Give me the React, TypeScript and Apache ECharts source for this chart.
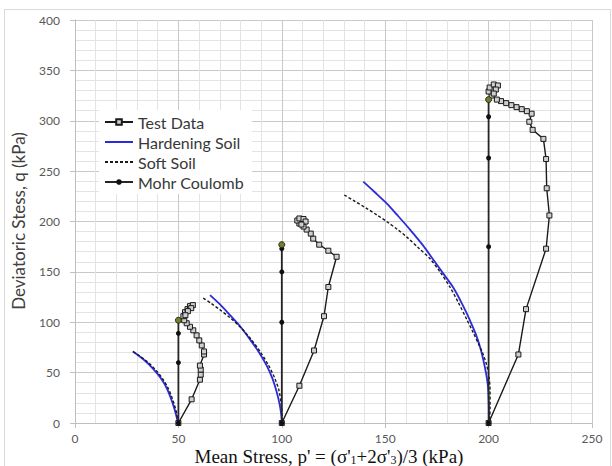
import React, { useEffect, useRef } from "react";
import * as echarts from "echarts";

// Axis ranges (kPa)
const P_MAX = 250;
const P_STEP = 50;
const Q_MAX = 400;
const Q_STEP = 50;

const LEGEND_NAMES = ["Test Data", "Hardening Soil", "Soft Soil", "Mohr Coulomb"];

// Measured stress paths [p', q] for the three confining levels
const testData50 = [
  [50, 0], [56.4, 23.5], [60.4, 43], [60.8, 48], [60.8, 53], [60.4, 57], [62.4, 68], [62.4, 71],
  [61.3, 77], [60.1, 82], [58.8, 87], [57.2, 92], [55.6, 95.5], [54, 99], [52.8, 102], [52.4, 106],
  [53.2, 110], [54.4, 113], [55.6, 116], [57, 117], [56.2, 114], [54.6, 111], [53.4, 107],
];
const testData100 = [
  [100, 0], [108.5, 37], [115.6, 72], [120.4, 106], [122.5, 135], [126.5, 165], [122.5, 171],
  [118.1, 177], [115.2, 183], [114, 188], [112, 192], [110.5, 195], [108.5, 198], [107.5, 201],
  [108.5, 203], [110.5, 202.5], [111.5, 200], [109.5, 197],
];
const testData200 = [
  [200, 0], [214.4, 68], [218.1, 113], [227.8, 173], [229.4, 206], [228.1, 233], [227.8, 262],
  [226.5, 282], [221.3, 291], [219.7, 299], [220.8, 307], [218.5, 309.5], [216, 311.5],
  [213.5, 313.5], [211, 315.5], [208.5, 317.5], [206, 319.5], [204, 321], [201.5, 325], [200, 329],
  [200.5, 333], [202.5, 336], [204.5, 335], [203.5, 331], [202.5, 327],
];

// Hardening Soil model predictions
const hardening50 = [
  [28, 71], [31, 66.5], [34, 61.5], [37, 55.5], [40, 48.5], [42.5, 41.5], [44.5, 34], [46.3, 25],
  [47.8, 16], [48.9, 8], [49.8, 0],
];
const hardening100 = [
  [65.3, 127], [70, 118], [75, 107], [80, 95.5], [84.6, 83], [89, 70], [92.7, 57], [95.5, 44],
  [97.5, 31], [99, 18], [99.8, 7], [100, 0],
];
const hardening200 = [
  [139.4, 239.5], [145, 229], [150.7, 218], [156, 206], [162, 192], [168, 177], [173.3, 162],
  [178, 148.5], [182.9, 134.5], [186.5, 121], [189.4, 109], [192, 97], [194.2, 86], [196, 74.5],
  [197.4, 63], [198.8, 49], [199.7, 36], [200.1, 18], [200.2, 0],
];

// Soft Soil model predictions
const softSoil50 = [
  [28, 71], [31, 67], [34, 62.5], [37, 57], [40, 50.5], [42.5, 43.5], [44.7, 36], [46.5, 27.5],
  [48, 18.5], [49.2, 9], [49.8, 0],
];
const softSoil100 = [
  [62, 124], [66, 118.5], [70, 112.5], [75, 104.5], [80, 95], [85, 83.5], [89.5, 71], [93.5, 57.5],
  [96.5, 45], [98.6, 32.5], [99.7, 19], [100.1, 8], [100.2, 0],
];
const softSoil200 = [
  [130.2, 226.3], [135, 220.5], [141, 213], [146, 206.5], [150.7, 200], [156, 192], [160.5, 184.5],
  [166, 174], [171.7, 163], [176.5, 150], [181.3, 135], [185.5, 119], [189.4, 103], [192.5, 90],
  [195, 79], [197.2, 69], [199, 58], [200.2, 46], [200.7, 32], [200.7, 16], [200.5, 0],
];

// Mohr Coulomb model predictions
const mohr50 = [[50, 0], [50, 60], [50, 89], [50, 102]];
const mohr100 = [[100, 0], [100, 100], [100, 150], [100, 173], [100, 177]];
const mohr200 = [[200, 0], [200, 175], [200, 263], [200, 304], [200, 321]];

const SANS = "Lato, 'Open Sans', sans-serif";
const SERIF = "'Liberation Serif', 'Times New Roman', serif";

function buildOption(): echarts.EChartsOption {
  const testSeries = [testData50, testData100, testData200].map((d) => ({
    type: "line" as const,
    name: "Test Data",
    data: d,
    symbol: "rect",
    symbolSize: 5,
    lineStyle: { color: "#1a1a1a", width: 1.4 },
    itemStyle: { color: "#cfcfcf", borderColor: "#1a1a1a", borderWidth: 1 },
    z: 2,
  }));
  const hardeningSeries = [hardening50, hardening100, hardening200].map((d) => ({
    type: "line" as const,
    name: "Hardening Soil",
    data: d,
    smooth: 0.3,
    symbol: "none",
    lineStyle: { color: "#2b2bdc", width: 1.8 },
    itemStyle: { color: "#2b2bdc" },
    z: 3,
  }));
  const softSeries = [softSoil50, softSoil100, softSoil200].map((d) => ({
    type: "line" as const,
    name: "Soft Soil",
    data: d,
    smooth: 0.3,
    symbol: "none",
    lineStyle: { color: "#1a1a1a", width: 1.4, type: [3, 2] as number[] },
    itemStyle: { color: "#1a1a1a" },
    z: 4,
  }));
  const mohrSeries = [mohr50, mohr100, mohr200].map((d) => ({
    type: "line" as const,
    name: "Mohr Coulomb",
    data: d.map((v, i) =>
      i === d.length - 1
        ? { value: v, symbolSize: 6, itemStyle: { color: "#6f7f2f", borderColor: "#2a3010", borderWidth: 1 } }
        : v
    ),
    symbol: "circle",
    symbolSize: 5,
    lineStyle: { color: "#262626", width: 1.8 },
    itemStyle: { color: "#111" },
    z: 5,
  }));

  const axisCommon = {
    type: "value" as const,
    axisLine: { show: true, lineStyle: { color: "#bfbfbf", width: 1 } },
    axisTick: { show: true, length: 5, lineStyle: { color: "#bfbfbf" } },
    axisLabel: { color: "#595959", fontFamily: SANS, fontSize: 12 },
    splitLine: { show: true, lineStyle: { color: "#c9c9c9", width: 1 } },
    minorTick: { show: false, splitNumber: 5 },
    minorSplitLine: { show: true, lineStyle: { color: "#e3e3e3", width: 1 } },
  };

  return {
    animation: false,
    backgroundColor: "#ffffff",
    grid: { left: 75, right: 20, top: 20, bottom: 43 },
    xAxis: {
      ...axisCommon,
      min: 0,
      max: P_MAX,
      interval: P_STEP,
      axisLabel: { ...axisCommon.axisLabel, margin: 9 },
    },
    yAxis: {
      ...axisCommon,
      min: 0,
      max: Q_MAX,
      interval: Q_STEP,
      axisLabel: { ...axisCommon.axisLabel, margin: 15 },
    },
    legend: {
      data: [
        { name: LEGEND_NAMES[0] },
        { name: LEGEND_NAMES[1], itemStyle: { opacity: 0 } },
        { name: LEGEND_NAMES[2], itemStyle: { opacity: 0 } },
        { name: LEGEND_NAMES[3] },
      ],
      orient: "vertical",
      left: 99,
      top: 110,
      itemWidth: 28,
      itemHeight: 7,
      itemGap: 4,
      padding: [4, 8, 4, 5],
      backgroundColor: "#ffffff",
      textStyle: { fontFamily: SANS, fontSize: 16, color: "#383838" },
    },
    graphic: [
      {
        type: "rect",
        shape: { x: 4.5, y: 9.5, width: 606, height: 470 },
        style: { fill: "none", stroke: "#d9d9d9", lineWidth: 1 },
        silent: true,
        z: -1,
      },
      {
        type: "text",
        x: 18,
        y: 221,
        rotation: Math.PI / 2,
        style: {
          text: "Deviatoric Stess, q (kPa)",
          fontFamily: SANS,
          fontSize: 17,
          fill: "#404040",
          align: "center",
          verticalAlign: "middle",
        },
      },
      {
        type: "text",
        x: 329,
        y: 456,
        style: {
          text: "Mean Stress, p' = (σ'{s|1}+2σ'{s|3})/3 (kPa)",
          fontFamily: SERIF,
          fontSize: 19,
          lineHeight: 19,
          fill: "#111",
          align: "center",
          verticalAlign: "middle",
          rich: {
            s: {
              fontFamily: SERIF,
              fontSize: 12,
              fill: "#111",
              verticalAlign: "bottom",
              lineHeight: 9,
            },
          },
        },
      },
    ],
    series: [...testSeries, ...hardeningSeries, ...softSeries, ...mohrSeries],
  };
}

export default function App() {
  const ref = useRef<HTMLDivElement>(null);
  useEffect(() => {
    if (!ref.current) return;
    const chart = echarts.init(ref.current, undefined, { renderer: "svg" });
    chart.setOption(buildOption());
    return () => chart.dispose();
  }, []);
  return (
    <div
      ref={ref}
      style={{ position: "absolute", left: 0, top: 0, width: 612, height: 466, background: "#fff" }}
    />
  );
}
